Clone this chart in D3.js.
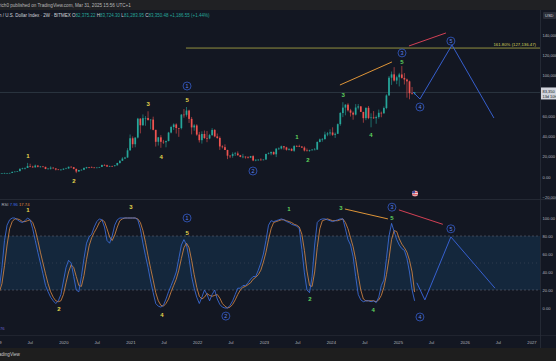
<!DOCTYPE html>
<html>
<head>
<meta charset="utf-8">
<script src="https://cdn.jsdelivr.net/npm/d3@7"></script>
<style>
html,body{margin:0;padding:0;background:#131722;overflow:hidden;}
svg{display:block;font-family:"Liberation Sans",Arial,sans-serif;}
</style>
</head>
<body>
<svg></svg>
<script>
// 2W bars from 2018-12-31, prices in thousands of USD
var firstBar = "2018-12-31";
var open = [3.7,3.51,3.55,3.62,3.85,3.9,4.0,5.05,5.3,5.75,
  8.1,8.7,8.9,10.8,10.2,9.5,11.3,10.1,10.3,10.0,
  7.9,8.2,9.2,8.5,7.4,7.1,7.3,8.2,8.4,10.1,
  9.7,8.0,5.4,6.9,7.1,8.9,9.7,9.5,9.3,9.1,
  9.3,9.9,11.9,11.6,10.3,10.9,10.7,11.5,13.8,16.0,
  18.2,19.2,26.3,38.2,32.3,38.9,57.5,51.0,58.0,58.2,
  56.2,56.6,46.5,34.7,39.1,34.7,34.3,35.4,43.8,49.3,
  51.8,48.3,48.2,61.5,61.3,65.5,57.3,48.9,50.8,41.8,
  36.3,42.4,38.4,38.0,41.3,46.4,40.0,38.5,30.1,29.4,
  26.6,21.0,20.8,22.6,23.2,21.5,19.8,20.1,19.4,19.1,
  20.6,16.3,17.1,17.1,16.8,17.2,22.7,23.3,24.6,22.4,
  27.9,28.1,30.3,29.2,26.9,27.7,25.9,30.5,30.3,30.1,
  29.0,26.1,25.8,26.5,27.0,27.0,34.5,37.1,37.4,41.9,
  43.0,43.9,41.6,42.6,52.1,63.1,68.4,71.3,65.7,63.4,
  61.5,68.5,69.6,64.2,58.0,68.2,58.1,58.7,58.0,59.1,
  63.3,62.8,68.0,80.4,97.9,101.2,95.1,98.3,101.1,97.7,
  96.1,94.3,82.6,82.38];
var high = [4.1,3.75,3.6,4.2,4.0,4.1,5.3,5.47,5.8,8.3,
  9.1,9.4,13.9,13.1,11.1,12.3,11.4,10.9,10.9,10.1,
  8.8,10.5,9.5,8.5,7.7,7.6,8.4,9.2,10.2,10.5,
  9.7,8.2,7.0,7.5,9.4,10.0,9.9,10.4,9.8,9.4,
  9.9,12.1,12.5,12.1,11.1,11.0,11.7,14.1,16.5,19.5,
  19.9,28.4,41.9,40.0,39.0,58.3,58.0,61.7,60.0,64.8,
  57.0,59.5,46.5,39.5,41.3,36.6,35.9,44.5,50.5,52.9,
  52.9,48.4,62.0,67.0,69.0,66.3,59.2,52.1,52.0,44.5,
  45.0,45.8,45.4,42.5,48.2,47.2,42.9,40.0,31.3,32.2,
  26.9,21.6,24.3,24.7,25.2,21.8,22.8,20.3,20.5,20.8,
  21.5,17.2,17.4,18.4,17.2,23.0,24.2,25.2,25.2,28.5,
  29.2,31.0,30.5,29.8,28.3,28.4,31.4,31.4,31.8,30.1,
  30.2,28.1,26.9,27.5,28.6,35.2,37.9,38.4,44.7,44.3,
  47.0,49.0,43.9,52.8,64.0,73.8,71.7,72.7,67.2,64.7,
  71.9,71.9,70.0,64.2,68.5,70.0,62.8,65.0,60.6,66.5,
  64.5,69.5,81.5,99.6,104.0,108.3,99.9,102.7,109.4,102.5,
  97.0,95.0,88.8,83.72];
var low = [3.45,3.45,3.35,3.55,3.7,3.85,3.9,4.95,5.2,5.7,
  7.5,7.45,8.9,9.6,9.1,9.4,9.5,9.4,9.8,7.7,
  7.8,7.3,8.4,6.5,7.0,6.4,6.9,8.1,8.3,9.3,
  7.6,3.8,5.3,6.5,6.8,8.1,8.6,9.2,8.9,8.9,
  9.0,9.9,11.1,9.9,9.9,10.1,10.5,11.4,13.2,15.9,
  17.6,19.0,26.0,28.8,29.3,38.0,43.0,50.5,50.5,55.5,
  47.0,46.0,30.0,31.0,28.8,32.7,29.3,35.2,43.0,46.4,
  42.8,39.6,46.9,58.5,59.5,53.3,42.0,45.6,40.6,34.0,
  32.9,37.6,34.3,37.2,40.5,39.2,37.7,26.7,28.1,26.6,
  17.6,18.6,19.0,20.7,20.9,19.5,18.5,18.1,18.2,18.9,
  15.6,15.5,16.0,16.3,16.4,17.1,22.3,21.4,21.9,19.6,
  26.6,27.2,27.0,26.0,26.1,25.4,24.8,29.5,29.6,28.8,
  25.2,25.4,24.9,26.0,26.6,26.9,34.1,34.8,36.7,40.2,
  40.8,40.5,38.5,42.5,50.5,59.0,60.8,64.5,59.6,56.5,
  60.7,66.6,64.1,53.5,56.0,57.0,49.0,57.2,52.5,57.5,
  58.9,62.4,66.8,80.2,90.8,94.1,91.5,89.3,97.0,91.2,
  78.2,76.6,81.2,81.28];
var close = [3.51,3.55,3.62,3.85,3.9,4.0,5.05,5.3,5.75,8.1,
  8.7,8.9,10.8,10.2,9.5,11.3,10.1,10.3,10.0,7.9,
  8.2,9.2,8.5,7.4,7.1,7.3,8.2,8.4,10.1,9.7,
  8.0,5.4,6.9,7.1,8.9,9.7,9.5,9.3,9.1,9.3,
  9.9,11.9,11.6,10.3,10.9,10.7,11.5,13.8,16.0,18.2,
  19.2,26.3,38.2,32.3,38.9,57.5,51.0,58.0,58.2,56.2,
  56.6,46.5,34.7,39.1,34.7,34.3,35.4,43.8,49.3,51.8,
  48.3,48.2,61.5,61.3,65.5,57.3,48.9,50.8,41.8,36.3,
  42.4,38.4,38.0,41.3,46.4,40.0,38.5,30.1,29.4,26.6,
  21.0,20.8,22.6,23.2,21.5,19.8,20.1,19.4,19.1,20.6,
  16.3,17.1,17.1,16.8,17.2,22.7,23.3,24.6,22.4,27.9,
  28.1,30.3,29.2,26.9,27.7,25.9,30.5,30.3,30.1,29.0,
  26.1,25.8,26.5,27.0,27.0,34.5,37.1,37.4,41.9,43.0,
  43.9,41.6,42.6,52.1,63.1,68.4,71.3,65.7,63.4,61.5,
  68.5,69.6,64.2,58.0,68.2,58.1,58.7,58.0,59.1,63.3,
  62.8,68.0,80.4,97.9,101.2,95.1,98.3,101.1,97.7,96.1,
  94.3,82.6,82.3,83.35];

// stoch rsi, K (blue) and D (orange)
var stochK = [15,22,45,75,92,98,100,100,98,96,95,97,100,98,
  88,75,62,50,38,25,18,12,8,5,8,
  15,30,45,53,50,35,20,18,
  35,55,72,79,82,90,96,99,98,90,75,72,80,92,98,100,100,100,100,100,100,100,98,
  88,72,58,45,30,17,5,2,1,3,10,
  18,25,32,40,55,70,76,70,55,35,22,12,
  5,12,20,15,8,15,20,10,4,1,0,0,3,8,15,22,22,25,25,28,32,35,35,42,50,60,
  75,92,97,96,97,98,99,98,96,95,93,92,91,88,
  65,39,20,17,35,70,95,
  98,99,99,98,97,96,97,98,99,99,88,76,
  70,57,35,15,9,7,8,8,7,8,6,12,25,
  31,55,80,94,85,76,70,66,64,55,40,20,7.96];
var stochD = [25,18,27,47,70,88,96,99,99,98,96,96,97,98,
  95,87,75,62,50,38,27,18,12,8,7,
  8,15,28,40,48,45,35,25,
  24,36,54,69,78,84,89,95,98,96,88,79,75,81,90,97,99,100,100,100,100,100,99,
  95,86,73,58,44,31,17,8,3,2,5,
  10,18,25,32,42,55,67,72,67,53,37,23,
  13,10,12,16,14,13,14,15,11,5,2,0,1,4,9,15,20,23,24,26,28,32,34,37,42,51,
  62,76,88,95,96,97,98,98,97,96,95,93,92,90,
  82,64,41,25,24,40,67,
  88,97,98,99,98,97,97,97,98,99,95,88,
  78,68,54,36,20,10,8,8,8,8,7,9,14,
  23,37,55,76,86,85,77,71,67,62,53,40,17.74];

var priceTicks = [-20000,0,20000,40000,60000,80000,100000,120000,140000];
var rsiTicks = [0,20,40,60,80,100];
var timeTicks = [["2019-01-01","2019"],["2019-07-01","Jul"],["2020-01-01","2020"],["2020-07-01","Jul"],
  ["2021-01-01","2021"],["2021-07-01","Jul"],["2022-01-01","2022"],["2022-07-01","Jul"],
  ["2023-01-01","2023"],["2023-07-01","Jul"],["2024-01-01","2024"],["2024-07-01","Jul"],
  ["2025-01-01","2025"],["2025-07-01","Jul"],["2026-01-01","2026"],["2026-07-01","Jul"],["2027-01-01","2027"]];

var lastPrice = 83350.48;
var fibLevel = 127136.47;
var fibStart = "2021-10-29";

// wave labels on price: date, value, text, degree
var priceWaves = [
  ["2019-06-19",20700,"1","minor"],["2020-02-25",-3900,"2","minor"],["2021-04-05",72000,"3","minor"],
  ["2021-06-15",19700,"4","minor"],["2021-11-04",75900,"5","minor"],["2021-11-04",89700,"1","primary"],
  ["2022-10-30",5900,"2","primary"],["2023-06-27",39400,"1","minute"],["2023-08-26",16800,"2","minute"],
  ["2024-03-05",80800,"3","minute"],["2024-08-04",41400,"4","minute"],["2025-01-21",113400,"5","minute"],
  ["2025-01-21",122300,"3","primary"],["2025-04-29",69000,"4","primary"],["2025-10-15",134000,"5","primary"]];
var rsiWaves = [
  ["2019-06-19",109,"1","minor"],["2019-12-05",-1,"2","minor"],["2021-01-02",112,"3","minor"],
  ["2021-06-20",-8,"4","minor"],["2021-11-04",83,"5","minor"],["2021-11-04",100,"1","primary"],
  ["2022-06-04",-9,"2","primary"],["2023-05-14",110,"1","minute"],["2023-09-06",10,"2","minute"],
  ["2024-02-23",111,"3","minute"],["2024-08-16",-2,"4","minute"],["2024-11-27",100,"5","minute"],
  ["2024-11-27",112,"3","primary"],["2025-04-29",-10,"4","primary"],["2025-10-15",88,"5","primary"]];

// trend lines and projections
var priceOrange = [["2024-02-17",90700],["2024-11-27",113400]];
var priceRed = [["2025-02-28",129200],["2025-09-18",142000]];
var priceProjection = [["2025-03-22",83800],["2025-04-29",76900],["2025-10-21",130100],["2026-06-07",58200]];
var rsiOrange = [["2024-03-15",110],["2024-11-05",99]];
var rsiRed = [["2025-01-04",109],["2025-09-01",93]];
var rsiProjection = [["2025-04-12",28],["2025-05-26",9],["2025-10-15",79],["2026-06-13",22]];

var W = 556, H = 361;
var parse = d3.utcParse("%Y-%m-%d");
var svg = d3.select("svg").attr("width", W).attr("height", H);

var x = d3.scaleUtc().domain([parse("2019-01-01"), parse("2027-01-01")]).range([-3, 532]);
var yPrice = d3.scaleLinear().domain([0, 140000]).range([177, 35]);
var yRsi = d3.scaleLinear().domain([0, 100]).range([308, 218]);

var bg = "#131722", axisText = "#b2b5be", up = "#26a69a", down = "#ef5350";
var yellow = "#e3d64c", green = "#5fd35f", waveBlue = "#3a66e0";

svg.append("rect").attr("width", W).attr("height", H).attr("fill", bg);
svg.append("rect").attr("width", W).attr("height", 10).attr("fill", "#202124");
svg.append("rect").attr("y", 348).attr("width", W).attr("height", 13).attr("fill", "#1e1e1e");

var defs = svg.append("defs");
defs.append("clipPath").attr("id", "mainClip").append("rect").attr("x", 0).attr("y", 10).attr("width", 540).attr("height", 189);
defs.append("clipPath").attr("id", "rsiClip").append("rect").attr("x", 0).attr("y", 200).attr("width", 540).attr("height", 135);

// separators
svg.append("line").attr("x1", 540.5).attr("x2", 540.5).attr("y1", 10).attr("y2", 348).attr("stroke", "#2a2e39").attr("stroke-width", 0.8);
svg.append("line").attr("x1", 0).attr("x2", W).attr("y1", 199.5).attr("y2", 199.5).attr("stroke", "#2a2e39").attr("stroke-width", 0.8);
svg.append("line").attr("x1", 0).attr("x2", W).attr("y1", 335.5).attr("y2", 335.5).attr("stroke", "#2a2e39").attr("stroke-width", 0.6);

// bars
var bars = close.map(function(c, i) {
  return {t: d3.utcDay.offset(parse(firstBar), 14 * i), o: open[i] * 1000, h: high[i] * 1000, l: low[i] * 1000, c: c * 1000};
});

var main = svg.append("g").attr("clip-path", "url(#mainClip)");

main.append("line")
  .attr("x1", 0).attr("x2", 540)
  .attr("y1", yPrice(lastPrice)).attr("y2", yPrice(lastPrice))
  .attr("stroke", "#3b4a55").attr("stroke-width", 0.6);

var candle = main.selectAll("g.bar").data(bars).enter().append("g").attr("class", "bar");
candle.append("line")
  .attr("x1", function(d){ return x(d.t); }).attr("x2", function(d){ return x(d.t); })
  .attr("y1", function(d){ return yPrice(d.h); }).attr("y2", function(d){ return yPrice(d.l); })
  .attr("stroke", function(d){ return d.c >= d.o ? up : down; })
  .attr("stroke-width", 0.6);
candle.append("rect")
  .attr("x", function(d){ return x(d.t) - 0.85; })
  .attr("width", 1.7)
  .attr("y", function(d){ return yPrice(Math.max(d.o, d.c)); })
  .attr("height", function(d){ return Math.max(0.6, Math.abs(yPrice(d.o) - yPrice(d.c))); })
  .attr("fill", function(d){ return d.c >= d.o ? up : down; });

// fib level
main.append("line")
  .attr("x1", x(parse(fibStart))).attr("x2", 540)
  .attr("y1", yPrice(fibLevel)).attr("y2", yPrice(fibLevel))
  .attr("stroke", "#c9c44e").attr("stroke-width", 0.7);
main.append("text")
  .attr("x", 536).attr("y", yPrice(fibLevel) - 2.5)
  .attr("text-anchor", "end").attr("font-size", 4.3).attr("fill", "#d8d25a")
  .text("161.80% (" + d3.format(",.2f")(fibLevel) + ")");

function drawPath(g, pts, yScale, color, w) {
  var line = d3.line().x(function(d){ return x(parse(d[0])); }).y(function(d){ return yScale(d[1]); });
  g.append("path").attr("d", line(pts)).attr("fill", "none").attr("stroke", color).attr("stroke-width", w);
}

function drawWaves(g, list, yScale) {
  list.forEach(function(d) {
    var cx = x(parse(d[0])), cy = yScale(d[1]);
    if (d[3] == "primary") {
      g.append("circle").attr("cx", cx).attr("cy", cy).attr("r", 4)
        .attr("fill", bg).attr("stroke", waveBlue).attr("stroke-width", 0.7);
      g.append("text").attr("x", cx).attr("y", cy + 1.9).attr("text-anchor", "middle")
        .attr("font-size", 5.4).attr("fill", "#5d84f2").text(d[2]);
    } else {
      g.append("text").attr("x", cx).attr("y", cy + 2).attr("text-anchor", "middle")
        .attr("font-size", 6).attr("font-weight", "bold")
        .attr("fill", d[3] == "minor" ? yellow : green).text(d[2]);
    }
  });
}

drawPath(main, priceOrange, yPrice, "#f5a33a", 0.9);
drawPath(main, priceRed, yPrice, "#e8455a", 0.9);
drawPath(main, priceProjection, yPrice, waveBlue, 0.9);
drawWaves(main, priceWaves, yPrice);

// RSI pane
var rsi = svg.append("g").attr("clip-path", "url(#rsiClip)");
rsi.append("rect")
  .attr("x", 0).attr("width", 540)
  .attr("y", yRsi(80)).attr("height", yRsi(20) - yRsi(80))
  .attr("fill", "rgba(33,150,243,0.13)");
[80, 20].forEach(function(v) {
  rsi.append("line").attr("x1", 0).attr("x2", 540).attr("y1", yRsi(v)).attr("y2", yRsi(v))
    .attr("stroke", "#6f7380").attr("stroke-width", 0.5).attr("stroke-dasharray", "2,2");
});
rsi.append("line").attr("x1", 0).attr("x2", 540).attr("y1", yRsi(50)).attr("y2", yRsi(50))
  .attr("stroke", "#4a5060").attr("stroke-width", 0.5).attr("stroke-dasharray", "1,3");

var kLine = d3.line().x(function(d, i){ return x(bars[i].t); }).y(function(d){ return yRsi(d); });
rsi.append("path").attr("d", kLine(stochD)).attr("fill", "none").attr("stroke", "#dd8a44").attr("stroke-width", 0.8);
rsi.append("path").attr("d", kLine(stochK)).attr("fill", "none").attr("stroke", "#3f72e6").attr("stroke-width", 0.8);

drawPath(rsi, rsiOrange, yRsi, "#f5a33a", 0.9);
drawPath(rsi, rsiRed, yRsi, "#e8455a", 0.9);
drawPath(rsi, rsiProjection, yRsi, waveBlue, 0.9);
drawWaves(rsi, rsiWaves, yRsi);

// flag event marker
var flag = svg.append("g").attr("transform", "translate(" + x(parse("2025-04-02")) + ",193.5)");
defs.append("clipPath").attr("id", "flagClip").append("circle").attr("r", 3);
var fl = flag.append("g").attr("clip-path", "url(#flagClip)");
fl.append("rect").attr("x", -3).attr("y", -3).attr("width", 6).attr("height", 6).attr("fill", "#f2f2f2");
[-3, -1.3, 0.4, 2.1].forEach(function(s) {
  fl.append("rect").attr("x", -3).attr("y", s).attr("width", 6).attr("height", 0.85).attr("fill", "#d8323c");
});
fl.append("rect").attr("x", -3).attr("y", -3).attr("width", 3).attr("height", 2.8).attr("fill", "#3b4aa0");

// axes (the last price badge hides the tick under it)
var ly = yPrice(lastPrice);
var priceAxis = svg.append("g");
priceAxis.selectAll("text").data(priceTicks.filter(function(d){ return Math.abs(yPrice(d) - ly) > 8; }))
  .enter().append("text")
  .attr("x", 542.5).attr("y", function(d){ return yPrice(d) + 1.5; })
  .attr("font-size", 4.1).attr("fill", axisText)
  .text(function(d){ return d == 0 ? "0.00" : d3.format(",")(d); });

var rsiAxis = svg.append("g");
rsiAxis.selectAll("text").data(rsiTicks).enter().append("text")
  .attr("x", 542.5).attr("y", function(d){ return yRsi(d) + 1.5; })
  .attr("font-size", 4.1).attr("fill", axisText)
  .text(function(d){ return d3.format(".2f")(d); });

svg.selectAll("text.time").data(timeTicks).enter().append("text").attr("class", "time")
  .attr("x", function(d){ return x(parse(d[0])); }).attr("y", 343.5)
  .attr("text-anchor", "middle").attr("font-size", 4.2).attr("fill", axisText)
  .text(function(d){ return d[1]; });

// last price label
svg.append("rect").attr("x", 541).attr("y", ly - 5).attr("width", 15).attr("height", 12).attr("fill", "#d1d4dc");
svg.append("text").attr("x", 542.5).attr("y", ly + 0.6).attr("font-size", 4).attr("fill", "#131722")
  .text(d3.format(",.0f")(lastPrice));
svg.append("text").attr("x", 542.5).attr("y", ly + 5.6).attr("font-size", 3.9).attr("fill", "#131722")
  .text("13d 10h");

// USD badge
svg.append("rect").attr("x", 543).attr("y", 12).attr("width", 13).attr("height", 7).attr("rx", 1).attr("fill", "#2a2e39");
svg.append("text").attr("x", 545).attr("y", 17).attr("font-size", 4).attr("fill", "#d1d4dc").text("USD");

// header texts
svg.append("text").attr("x", -1).attr("y", 6.6).attr("font-size", 4.6).attr("fill", "#b8b8b8")
  .text("rich0 published on TradingView.com, Mar 31, 2025 15:56 UTC+1");

var legend = svg.append("text").attr("x", -1).attr("y", 16.6).attr("font-size", 4.5).attr("fill", "#d1d4dc");
legend.append("tspan").text("n / U.S. Dollar Index · 2W · BITMEX  ");
[["O", "82,375.22"], ["H", "83,724.30"], ["L", "81,283.95"], ["C", "83,350.48"]].forEach(function(p) {
  legend.append("tspan").text(p[0]);
  legend.append("tspan").attr("fill", up).text(p[1] + " ");
});
legend.append("tspan").attr("fill", up).text("+1,186.55 (+1.44%)");

var rsiLegend = svg.append("text").attr("x", 1.5).attr("y", 205.5).attr("font-size", 4.2).attr("fill", "#b2b5be");
rsiLegend.append("tspan").text("RSI  ");
rsiLegend.append("tspan").attr("fill", "#3f72e6").text(d3.format(".2f")(stochK[stochK.length - 1]) + "  ");
rsiLegend.append("tspan").attr("fill", "#e08a3c").text(d3.format(".2f")(stochD[stochD.length - 1]));

svg.append("text").attr("x", 0).attr("y", 330).attr("font-size", 4.2).attr("fill", "#6a62c8").text("76");

svg.append("text").attr("x", -5.5).attr("y", 356).attr("font-size", 4.6).attr("fill", "#c8c8c8").text("TradingView");
</script>
</body>
</html>
